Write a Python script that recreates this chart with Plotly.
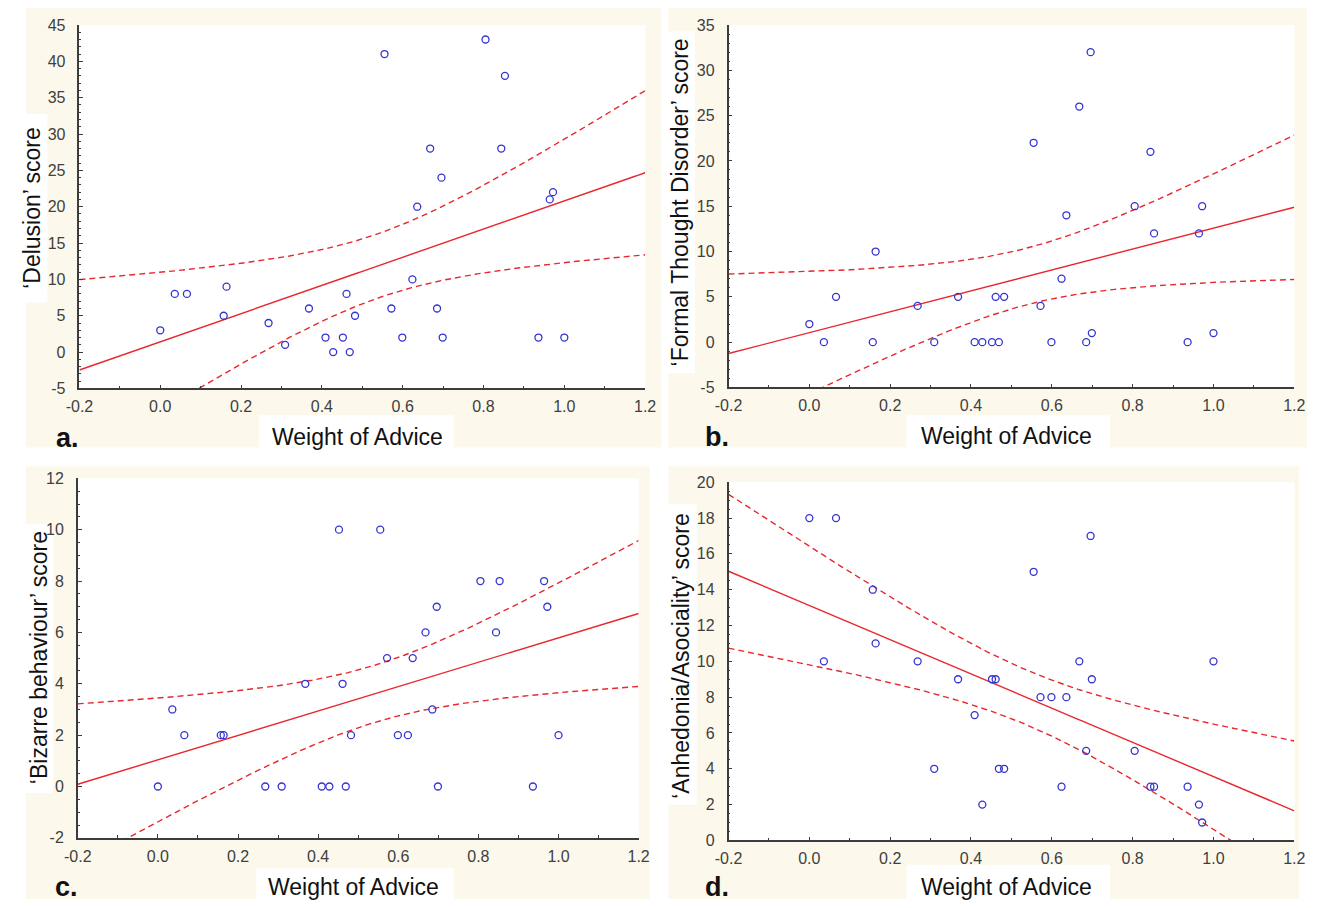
import numpy as np
import plotly.graph_objects as go

W, H = 1321, 908

# ---- data (same 30 participants in each panel) ----
weight_of_advice = [0.0, 0.036, 0.066, 0.157, 0.164, 0.268, 0.309, 0.368, 0.409, 0.428,
                    0.452, 0.461, 0.469, 0.482, 0.555, 0.572, 0.599, 0.624, 0.636, 0.668,
                    0.685, 0.696, 0.699, 0.805, 0.844, 0.853, 0.936, 0.964, 0.972, 1.0]
delusion_score = [3, 8, 8, 5, 9, 4, 1, 6, 2, 0,
                  2, 8, 0, 5, 41, 6, 2, 10, 20, 28,
                  6, 24, 2, 43, 28, 38, 2, 21, 22, 2]
ftd_score = [2, 0, 5, 0, 10, 4, 0, 5, 0, 0,
             0, 5, 0, 5, 22, 4, 0, 7, 14, 26,
             0, 32, 1, 15, 21, 12, 0, 12, 15, 1]
bizarre_score = [0, 3, 2, 2, 2, 0, 0, 4, 0, 0,
                 10, 4, 0, 2, 10, 5, 2, 2, 5, 6,
                 3, 7, 0, 8, 6, 8, 0, 8, 7, 2]
anhedonia_score = [18, 10, 18, 14, 11, 10, 4, 9, 7, 2,
                   9, 9, 4, 4, 15, 8, 8, 3, 8, 10,
                   5, 17, 9, 5, 3, 3, 3, 2, 1, 10]

x_tick_vals = [-0.2, 0.0, 0.2, 0.4, 0.6, 0.8, 1.0, 1.2]
x_tick_text = ["-0.2", "0.0", "0.2", "0.4", "0.6", "0.8", "1.0", "1.2"]
delusion_ticks = [-5, 0, 5, 10, 15, 20, 25, 30, 35, 40, 45]
ftd_ticks = [-5, 0, 5, 10, 15, 20, 25, 30, 35]
bizarre_ticks = [-2, 0, 2, 4, 6, 8, 10, 12]
anhedonia_ticks = [0, 2, 4, 6, 8, 10, 12, 14, 16, 18, 20]
x_title = "Weight of Advice"

panels = [
    dict(y=delusion_score, yt=delusion_ticks, title="‘Delusion’ score", letter="a.",
         px=(66.7, 643.3), py=(17.3, 387.7), mdt=1,
         ytitle_xy=(19, 204), xtitle_xy=(350, 437), letter_xy=(55, 438),
         bg=(12, 0, 660, 448), ybox=(4, 108, 34, 300), xbox=(250, 415, 448, 448)),
    dict(y=ftd_score, yt=ftd_ticks, title="‘Formal Thought Disorder’ score", letter="b.",
         px=(728.3, 1305), py=(17.3, 386.7), mdt=1,
         ytitle_xy=(679, 198), xtitle_xy=(1012, 436), letter_xy=(717, 437),
         bg=(667, 0, 1318, 448), ybox=(664, 24, 694, 372), xbox=(910, 415, 1117, 448)),
    dict(y=bizarre_score, yt=bizarre_ticks, title="‘Bizarre behaviour’ score", letter="c.",
         px=(65, 636.7), py=(479.3, 845.7), mdt=0.5,
         ytitle_xy=(25, 662), xtitle_xy=(346, 896), letter_xy=(54, 896),
         bg=(12, 467, 648, 908), ybox=(8, 526, 40, 800), xbox=(247, 877, 448, 908)),
    dict(y=anhedonia_score, yt=anhedonia_ticks, title="‘Anhedonia/Asociality’ score", letter="d.",
         px=(728.3, 1305), py=(483.3, 848.3), mdt=0.5,
         ytitle_xy=(680, 660), xtitle_xy=(1012, 896), letter_xy=(717, 896),
         bg=(667, 467, 1310, 908), ybox=(664, 506, 696, 812), xbox=(910, 873, 1117, 908)),
]

FONT = "Liberation Sans, Arial, sans-serif"
RED = "#e8282e"
BLUE = "#3434d0"
AXC = "#3c3c3c"
CREAM = "#fcf9ec"

fig = go.Figure()
shapes = []
annotations = []

def fx(p):
    return p / W

def fy(p):
    return 1 - p / H

x = np.array(weight_of_advice, dtype=float)
grid = np.linspace(-0.2, 1.2, 281)
t_crit = 2.048  # t(0.975, df=28)

for i, p in enumerate(panels, start=1):
    xa = "x" if i == 1 else f"x{i}"
    ya = "y" if i == 1 else f"y{i}"
    y = np.array(p["y"], dtype=float)

    # linear regression with 95% confidence band
    b1, b0 = np.polyfit(x, y, 1)
    n = len(x)
    resid = y - (b0 + b1 * x)
    s = np.sqrt(np.sum(resid ** 2) / (n - 2))
    sxx = np.sum((x - x.mean()) ** 2)
    fit = b0 + b1 * grid
    half = t_crit * s * np.sqrt(1 / n + (grid - x.mean()) ** 2 / sxx)

    fig.add_trace(go.Scatter(x=grid, y=fit + half, mode="lines", xaxis=xa, yaxis=ya,
                             line=dict(color=RED, width=1.4, dash="6px,4px"),
                             showlegend=False, hoverinfo="skip"))
    fig.add_trace(go.Scatter(x=grid, y=fit - half, mode="lines", xaxis=xa, yaxis=ya,
                             line=dict(color=RED, width=1.4, dash="6px,4px"),
                             showlegend=False, hoverinfo="skip"))
    fig.add_trace(go.Scatter(x=grid, y=fit, mode="lines", xaxis=xa, yaxis=ya,
                             line=dict(color=RED, width=1.4),
                             showlegend=False, hoverinfo="skip"))
    fig.add_trace(go.Scatter(x=x, y=y, mode="markers", xaxis=xa, yaxis=ya,
                             marker=dict(symbol="circle-open", size=7, color=BLUE,
                                         line=dict(width=1.3, color=BLUE)),
                             showlegend=False))

    yt = p["yt"]
    xkey = "xaxis" if i == 1 else f"xaxis{i}"
    ykey = "yaxis" if i == 1 else f"yaxis{i}"
    fig.update_layout(**{
        xkey: dict(domain=[fx(p["px"][0]), fx(p["px"][1])], range=[-0.2, 1.2],
                   anchor=ya, showgrid=False, zeroline=False, showline=True,
                   linecolor=AXC, linewidth=1.5, ticks="inside", ticklen=4,
                   tickcolor=AXC, tickwidth=1, tickvals=x_tick_vals, ticktext=x_tick_text,
                   tickfont=dict(family=FONT, size=16, color="#404040"),
                   ticklabelstandoff=3,
                   minor=dict(ticks="inside", ticklen=3, dtick=0.1, tick0=-0.2,
                              tickcolor=AXC, showgrid=False),
                   fixedrange=True),
        ykey: dict(domain=[fy(p["py"][1]), fy(p["py"][0])], range=[yt[0], yt[-1]],
                   anchor=xa, showgrid=False, zeroline=False, showline=True,
                   linecolor=AXC, linewidth=1.5, ticks="inside", ticklen=4,
                   tickcolor=AXC, tickwidth=1,
                   tickvals=yt, ticktext=[str(v) for v in yt],
                   tickfont=dict(family=FONT, size=16, color="#404040"),
                   ticklabelstandoff=9,
                   minor=dict(ticks="inside", ticklen=2, dtick=p["mdt"], tick0=0,
                              tickcolor=AXC, showgrid=False),
                   fixedrange=True),
    })

    # cream panel background
    x0, y0, x1, y1 = p["bg"]
    shapes.append(dict(type="rect", xref="paper", yref="paper", layer="below",
                       x0=fx(x0), x1=fx(x1), y0=fy(y1), y1=fy(y0),
                       fillcolor=CREAM, line=dict(width=0)))
    # white plot area
    shapes.append(dict(type="rect", xref="paper", yref="paper", layer="below",
                       x0=fx(p["px"][0]), x1=fx(p["px"][1]), y0=fy(p["py"][1]), y1=fy(p["py"][0]),
                       fillcolor="white", line=dict(width=0)))
    # white boxes behind axis titles
    for bx in (p["ybox"], p["xbox"]):
        shapes.append(dict(type="rect", xref="paper", yref="paper", layer="below",
                           x0=fx(bx[0]), x1=fx(bx[2]), y0=fy(bx[3]), y1=fy(bx[1]),
                           fillcolor="white", line=dict(width=0)))

    annotations.append(dict(text=p["title"], xref="paper", yref="paper",
                            x=fx(p["ytitle_xy"][0]), y=fy(p["ytitle_xy"][1]),
                            textangle=-90, showarrow=False, xanchor="center", yanchor="middle",
                            font=dict(family=FONT, size=23, color="#111111")))
    annotations.append(dict(text=x_title, xref="paper", yref="paper",
                            x=fx(p["xtitle_xy"][0]), y=fy(p["xtitle_xy"][1]),
                            showarrow=False, xanchor="center", yanchor="middle",
                            font=dict(family=FONT, size=23, color="#111111")))
    annotations.append(dict(text="<b>" + p["letter"] + "</b>", xref="paper", yref="paper",
                            x=fx(p["letter_xy"][0]), y=fy(p["letter_xy"][1]),
                            showarrow=False, xanchor="center", yanchor="middle",
                            font=dict(family=FONT, size=27, color="#111111")))

fig.update_layout(width=W, height=H, margin=dict(l=0, r=0, t=0, b=0, pad=0),
                  paper_bgcolor="white", plot_bgcolor="rgba(0,0,0,0)",
                  shapes=shapes, annotations=annotations, showlegend=False,
                  font=dict(family=FONT))

fig.write_html("out.html", config={"displayModeBar": False})
